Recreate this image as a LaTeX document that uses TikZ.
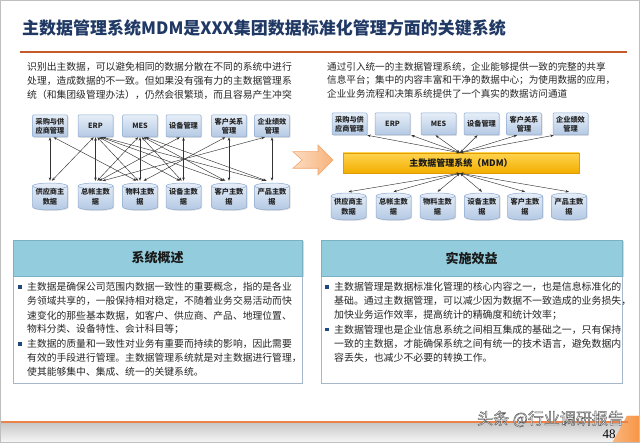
\documentclass[tikz,border=0pt]{standalone}
\usepackage{fontspec}
\setmainfont{Noto Sans CJK SC}
\newfontfamily\seriffont{Liberation Serif}
\usetikzlibrary{arrows.meta,shadows}
\definecolor{titleblue}{HTML}{1F3864}
\definecolor{lineorange}{HTML}{C55A2A}
\definecolor{boxtop}{HTML}{E6EEF8}
\definecolor{boxbot}{HTML}{B4C9E4}
\definecolor{boxborder}{HTML}{8EAAD0}
\definecolor{hdrblue}{HTML}{93CDDD}
\definecolor{hdrborder}{HTML}{7AAFC4}
\definecolor{panelborder}{HTML}{A7B7CB}
\definecolor{bulletblue}{HTML}{1F497D}
\definecolor{mdmtop}{HTML}{FFD44F}
\definecolor{mdmbot}{HTML}{F2AE00}
\definecolor{mdmborder}{HTML}{E09C00}
\definecolor{arrowfillA}{HTML}{FCDCC2}
\definecolor{arrowfillB}{HTML}{F7B27A}
\definecolor{arrowborder}{HTML}{F2A46A}
\definecolor{footorange}{HTML}{E8834B}
\definecolor{wedgeorange}{HTML}{F79646}
\newcommand\dbcyl[4]{%
  \path[cylstyle, shift={(#2,#3)}] (-17.5,-10.5) -- (-17.5,10.5)
    .. controls (-17.5,12.16) and (-9.66,13.5) .. (0,13.5)
    .. controls (9.66,13.5) and (17.5,12.16) .. (17.5,10.5) -- (17.5,-10.5)
    .. controls (17.5,-12.16) and (9.66,-13.5) .. (0,-13.5)
    .. controls (-9.66,-13.5) and (-17.5,-12.16) .. (-17.5,-10.5) -- cycle;
  \draw[cylrim, shift={(#2,#3)}] (-17.5,-10.5)
    .. controls (-17.5,-8.84) and (-9.66,-7.5) .. (0,-7.5)
    .. controls (9.66,-7.5) and (17.5,-8.84) .. (17.5,-10.5);
  \node[cyltext] (#1) at (#2,#3) {#4};}
\newcommand\outlinetext[1]{\textcolor{white}{\special{pdf:literal direct 0.35 0.35 0.35 RG 0.45 w 2 Tr}#1\special{pdf:literal direct 0 Tr}}}
\begin{document}
\begin{tikzpicture}[x=1pt,y=-1pt,
  para/.style={anchor=west, inner sep=0, font=\fontsize{9.8}{11}\selectfont, text=black!85},
  sysbox/.style={draw=boxborder, line width=0.5pt, rounded corners=1pt, top color=boxtop, bottom color=boxbot,
     minimum width=35pt, minimum height=22pt, inner sep=0.5pt, align=center,
     font=\bfseries\fontsize{7.2}{9}\selectfont, text=black!85,
     drop shadow={opacity=0.25, shadow xshift=1pt, shadow yshift=-1pt}},
  cylstyle/.style={draw=boxborder, line width=0.5pt, top color=boxtop, bottom color=boxbot,
     drop shadow={opacity=0.25, shadow xshift=1pt, shadow yshift=-1pt}},
  cylrim/.style={draw=boxborder, line width=0.5pt},
  cyltext/.style={inner sep=0, minimum width=35pt, minimum height=27pt, align=center,
     font=\bfseries\fontsize{7.2}{10}\selectfont, text=black!85},
  conn/.style={<->, >={Stealth[length=3.5pt,width=2.6pt]}, line width=0.45pt, draw=black!80},
  hdr/.style={draw=hdrborder, fill=hdrblue, minimum width=289pt, minimum height=36pt, inner sep=0,
     font=\bfseries\fontsize{13}{15}\selectfont, text=black!90,
     drop shadow={opacity=0.3, shadow xshift=1.5pt, shadow yshift=-1.5pt}},
  panel/.style={draw=panelborder, fill=white, line width=0.6pt, minimum width=289pt, minimum height=107pt, inner sep=0},
  bullet/.style={fill=bulletblue, minimum size=3.6pt, inner sep=0},
  mdm/.style={draw=mdmborder, top color=mdmtop, bottom color=mdmbot, minimum width=236pt, minimum height=20pt,
     inner sep=0, font=\bfseries\fontsize{9}{10}\selectfont, text=black!90,
     drop shadow={opacity=0.3, shadow xshift=1pt, shadow yshift=-1.5pt}}
]
\useasboundingbox (0,0) rectangle (640,443);
% frame
\draw[gray!50, line width=1.2pt] (0.6,0.6) rectangle (639.4,442.4);
% title
\node[anchor=west, inner sep=0, font=\bfseries\fontsize{17}{20}\selectfont, text=titleblue] (title) at (22,28)
  {主数据管理系统MDM是XXX集团数据标准化管理方面的关键系统};
\draw[lineorange, line width=2pt] (20,52) -- (627,52);
% top paragraphs
\foreach \t [count=\i] in {识别出主数据，可以避免相同的数据分散在不同的系统中进行,
  处理，造成数据的不一致。但如果没有强有力的主数据管理系,
  统（和集团级管理办法），仍然会很繁琐，而且容易产生冲突}
  \node[para] (pl\i) at (27,{67+14*(\i-1)}) {\t};
\foreach \t [count=\i] in {通过引入统一的主数据管理系统，企业能够提供一致的完整的共享,
  信息平台；集中的内容丰富和干净的数据中心；为使用数据的应用，,
  企业业务流程和决策系统提供了一个真实的数据访问通道}
  \node[para, font=\fontsize{9.6}{11}\selectfont] (pr\i) at (327,{66.5+13.5*(\i-1)}) {\t};
% left diagram
\node[sysbox] (T1) at (50,126) {采购与供\\应商管理};
\node[sysbox] (T2) at (95.5,126) {ERP};
\node[sysbox] (T3) at (140,126) {MES};
\node[sysbox] (T4) at (183.5,126) {设备管理};
\node[sysbox] (T5) at (229,126) {客户关系\\管理};
\node[sysbox] (T6) at (272,126) {企业绩效\\管理};
\dbcyl{B1}{50}{196.5}{供应商主\\数据}
\dbcyl{B2}{95.5}{196.5}{总帐主数\\据}
\dbcyl{B3}{140}{196.5}{物料主数\\据}
\dbcyl{B4}{183.5}{196.5}{设备主数\\据}
\dbcyl{B5}{229}{196.5}{客户主数\\据}
\dbcyl{B6}{272}{196.5}{产品主数\\据}
\foreach \i/\j in {1/1,1/3,2/1,2/2,2/3,2/4,2/5,2/6,3/2,3/3,3/4,3/5,3/6,4/2,4/4,5/3,5/5,6/2,6/6} {
  \pgfmathsetmacro\dx{1.8*(\j-\i)}
  \pgfmathsetmacro\ex{-1.8*(\j-\i)}
  \draw[conn] ([xshift=\dx pt]T\i.south) -- ([xshift=\ex pt, yshift=2pt]B\j.north);
}
% block arrow
\draw[arrowborder, line width=0.6pt, left color=arrowfillA, right color=arrowfillB]
  (293,151.7) -- (318,151.7) -- (318,145) -- (333,160) -- (318,175) -- (318,168.3) -- (293,168.3) -- (302,160) -- cycle;
% right diagram
\node[sysbox] (R1) at (349.5,124) {采购与供\\应商管理};
\node[sysbox] (R2) at (392.5,124) {ERP};
\node[sysbox] (R3) at (438.5,124) {MES};
\node[sysbox] (R4) at (481.5,124) {设备管理};
\node[sysbox] (R5) at (524,124) {客户关系\\管理};
\node[sysbox] (R6) at (570.5,124) {企业绩效\\管理};
\node[mdm] (mdm) at (461,163) {主数据管理系统（MDM）};
\dbcyl{S1}{348.5}{206.5}{供应商主\\数据}
\dbcyl{S2}{393.5}{206.5}{总帐主数\\据}
\dbcyl{S3}{437.5}{206.5}{物料主数\\据}
\dbcyl{S4}{482}{206.5}{设备主数\\据}
\dbcyl{S5}{525}{206.5}{客户主数\\据}
\dbcyl{S6}{569}{206.5}{产品主数\\据}
\coordinate (mt) at ([xshift=-1pt]mdm.north);
\coordinate (mb) at ([xshift=-1pt]mdm.south);
\draw[conn] (mt) -- (R1.south east);
\draw[conn] (mt) -- ([xshift=1pt]R2.south east);
\draw[conn] (mt) -- ([xshift=-3pt]R3.south);
\draw[conn] (mt) -- ([xshift=-4pt]R4.south);
\draw[conn] (mt) -- ([xshift=-7pt]R5.south);
\draw[conn] (mt) -- ([xshift=1pt]R6.south west);
\foreach \j in {1,...,6}
  \draw[conn] (mb) -- ([yshift=1pt]S\j.north);
% lower panels
\node[panel] (p1) at (157.5,329.5) {};
\node[hdr] (h1) at (157.5,258) {系统概述};
\node[panel, minimum width=301pt] (p2) at (471.5,329.5) {};
\node[hdr, minimum width=301pt] (h2) at (471.5,258) {实施效益};
\node[bullet] (b1) at (20,287) {};
\node[bullet] (b2) at (20,343.8) {};
\node[bullet] (b3) at (327,287) {};
\node[bullet] (b4) at (327,329.6) {};
\foreach \t [count=\i] in {主数据是确保公司范围内数据一致性的重要概念，指的是各业,
  务领域共享的，一般保持相对稳定，不随着业务交易活动而快,
  速变化的那些基本数据，如客户、供应商、产品、地理位置、,
  物料分类、设备特性、会计科目等；,
  主数据的质量和一致性对业务有重要而持续的影响，因此需要,
  有效的手段进行管理。主数据管理系统就是对主数据进行管理，,
  使其能够集中、集成、统一的关键系统。}
  \node[para] (ql\i) at (27,{287+14.2*(\i-1)}) {\t};
\foreach \t [count=\i] in {主数据管理是数据标准化管理的核心内容之一，也是信息标准化的,
  基础。通过主数据管理，可以减少因为数据不一致造成的业务损失，,
  加快业务运作效率，提高统计的精确度和统计效率；,
  主数据管理也是企业信息系统之间相互集成的基础之一，只有保持,
  一致的主数据，才能确保系统之间有统一的技术语言，避免数据内,
  容丢失，也减少不必要的转换工作。}
  \node[para, font=\fontsize{9.9}{11}\selectfont] (qr\i) at (334,{287+14.2*(\i-1)}) {\t};
% footer
\fill[top color=gray!42, bottom color=gray!8] (1.2,423.5) rectangle (638.8,441.8);
\fill[wedgeorange, left color=wedgeorange!70, right color=wedgeorange] (613,441.8) -- (627,416) -- (638.8,416) -- (638.8,441.8) -- cycle;
\draw[footorange, line width=2.6pt] (1.2,422) -- (628,422);
\node[anchor=west, inner sep=0, font=\fontsize{16}{16}\selectfont] (wm) at (477,419)
  {\outlinetext{头条 @行业调研报告}};
\node[inner sep=0, font=\seriffont\fontsize{13}{13}\selectfont] (pg) at (609,434) {48};
\end{tikzpicture}
\end{document}
